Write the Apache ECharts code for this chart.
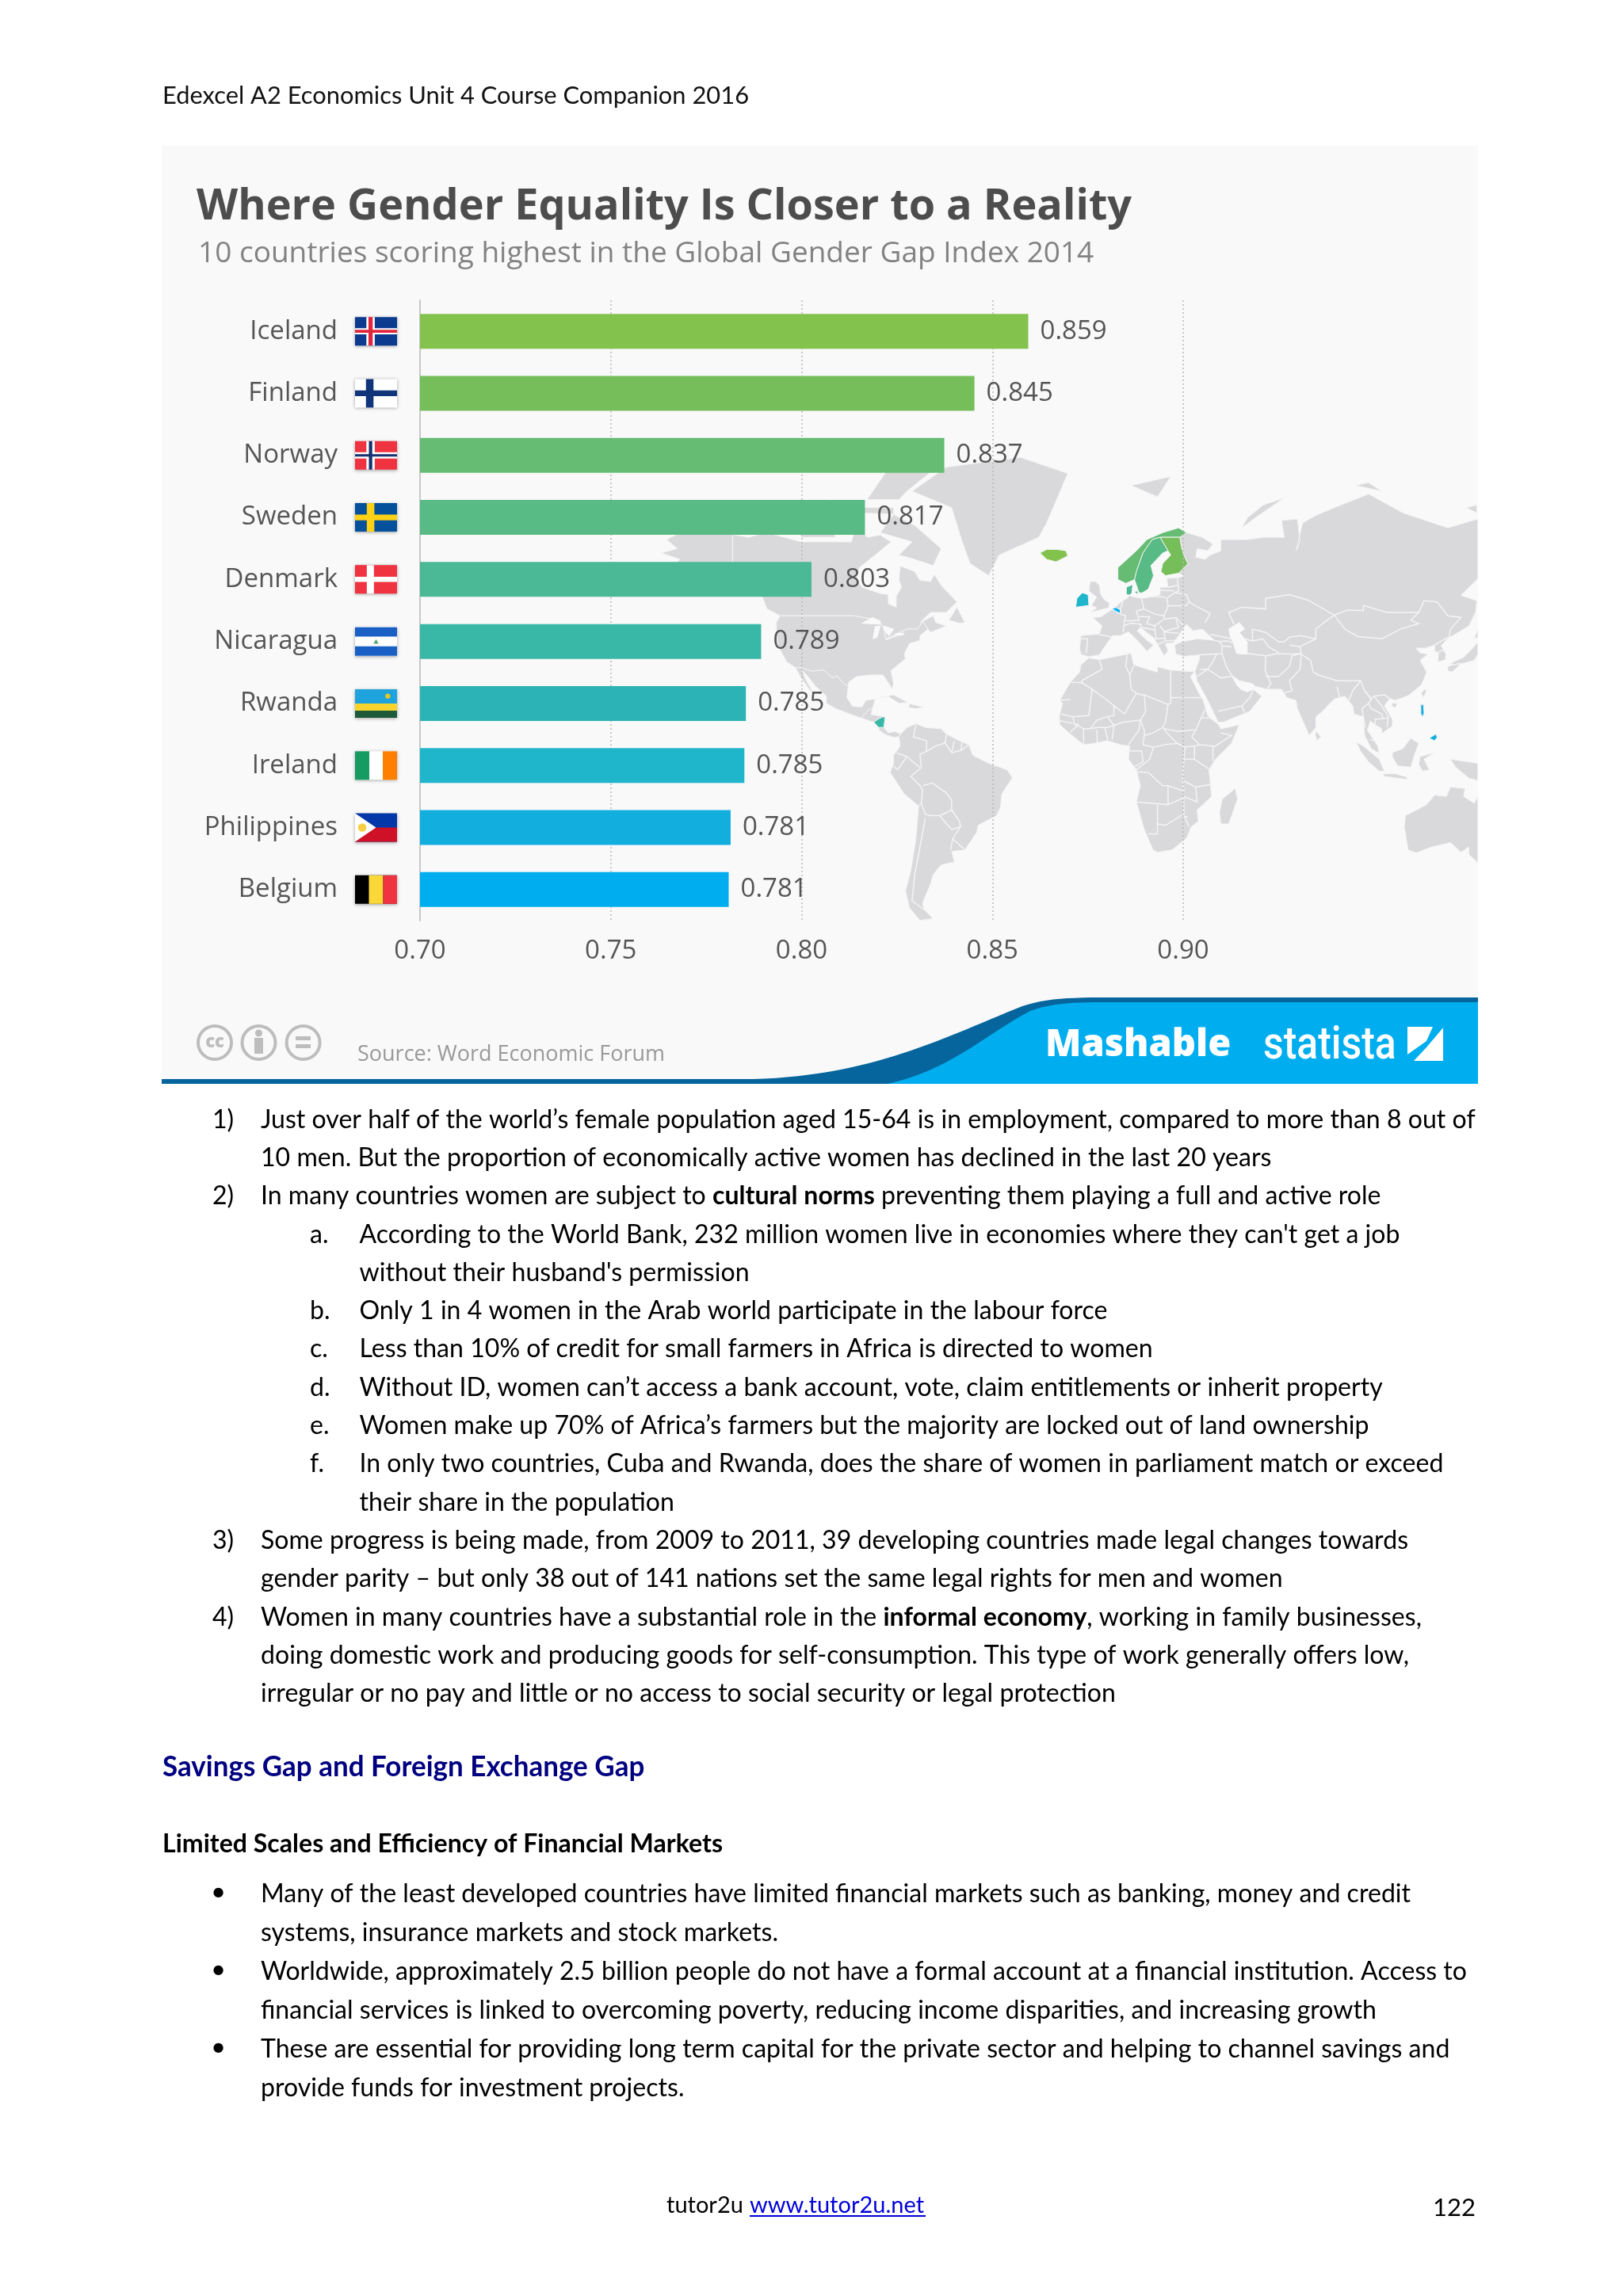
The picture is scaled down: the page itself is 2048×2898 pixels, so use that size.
<!DOCTYPE html>
<html><head><meta charset="utf-8">
<style>html,body{margin:0;padding:0;background:#fff}#c{width:2048px;height:2898px}</style>
<script src="https://cdn.jsdelivr.net/npm/echarts@6/dist/echarts.min.js"></script>
</head><body><div id="c"></div>
<script>
// ---------- chart data ----------
const categories = ['Iceland','Finland','Norway','Sweden','Denmark','Nicaragua','Rwanda','Ireland','Philippines','Belgium'];
const scores = [0.8594,0.8453,0.8374,0.8166,0.8026,0.7894,0.7854,0.7850,0.7814,0.7809];
const barColors = ['#84c24e','#76be5a','#65bc72','#58ba85','#4bb995','#3ab8a7','#2cb3b6','#1fb5cb','#12aede','#00aeef'];
const axisMin = 0.70, axisMax = 0.90, axisStep = 0.05;
const titleText = 'Where Gender Equality Is Closer to a Reality';
const subtitleText = '10 countries scoring highest in the Global Gender Gap Index 2014';
const sourceText = 'Source: Word Economic Forum';

// ---------- flag designs (fractions of the flag) ----------
const flagDesigns = {
  Iceland:{bg:'#0b3a8f',r:[[.27,0,.2,1,'#fff'],[0,.39,1,.22,'#fff'],[.32,0,.1,1,'#e0253c'],[0,.45,1,.1,'#e0253c']]},
  Finland:{bg:'#ffffff',r:[[.26,0,.18,1,'#10357a'],[0,.4,1,.2,'#10357a']]},
  Norway:{bg:'#ef3340',r:[[.27,0,.2,1,'#fff'],[0,.39,1,.22,'#fff'],[.33,0,.08,1,'#14306e'],[0,.46,1,.08,'#14306e']]},
  Sweden:{bg:'#04509a',r:[[.28,0,.18,1,'#fcd116'],[0,.4,1,.2,'#fcd116']]},
  Denmark:{bg:'#ef3340',r:[[.28,0,.17,1,'#fff'],[0,.41,1,.18,'#fff']]},
  Nicaragua:{bg:'#ffffff',r:[[0,0,1,.33,'#1a60c4'],[0,.67,1,.33,'#1a60c4']],p:[[[.44,.58],[.56,.58],[.5,.42],'#5aa36a']]},
  Rwanda:{bg:'#1fa3dd',r:[[0,.5,1,.25,'#f6d32d'],[0,.75,1,.25,'#1e5a3a']],c:[.78,.24,.06,'#e8c824']},
  Ireland:{bg:'#ffffff',r:[[0,0,.34,1,'#169b62'],[.66,0,.34,1,'#ff7f00']]},
  Philippines:{bg:'#0438a8',r:[[0,.5,1,.5,'#ce1126']],p:[[[0,0],[.5,.5],[0,1],'#ffffff']],c:[.17,.5,.1,'#f5cf3f']},
  Belgium:{bg:'#000000',r:[[.33,0,.34,1,'#fbd838'],[.67,0,.33,1,'#ef3340']]}
};

// ---------- world map, longitude/latitude rings ----------
const landRings = {
  Alaska:[[[-141,69.6],[-156,71.3],[-166,68.5],[-162,66.5],[-168,65.5],[-161,64],[-165,61],[-158,58.5],[-164,54.8],[-153,58],[-148,60.5],[-141,60],[-135,58],[-130,55],[-133,58.5],[-137,60],[-141,60.3]]],
  Canada:[[[-141,69.6],[-135,69],[-128,70],[-115,68],[-108,68],[-96,68],[-94,72],[-90,69],[-85,69.5],[-81,68],[-87,65],[-93,62],[-94,59],[-92,57],[-85,55.3],[-82,55],[-82,52.5],[-79,51.5],[-79,54.5],[-77,57],[-78,59],[-77.5,62.4],[-72,61],[-70,58.8],[-66,58.5],[-64.5,60.3],[-62,57.5],[-56,53],[-60,50],[-66,50],[-70,47],[-65,49],[-64,47],[-60,46],[-66,44],[-67,45],[-69,47.3],[-71,45],[-75,45],[-79,43.5],[-83,42],[-84,46],[-88,48],[-95,49],[-123,49],[-128,51],[-130,55],[-135,58],[-141,60]],
    [[-80,73.7],[-72,71.5],[-62,66.5],[-65,62.5],[-72,64],[-78,65],[-73,68],[-85,70]],[[-117,73],[-105,73],[-102,69],[-115,69]],[[-90,76.5],[-80,83],[-62,82.5],[-75,78],[-78,76.5]],[[-125,72],[-118,74.5],[-116,73],[-120,71.5]],[[-96,75],[-80,75],[-80,73.8],[-95,74]],[[-59,47.7],[-56,51.5],[-53,47],[-55,46.8]],[[-120,76],[-105,76.5],[-100,75.5],[-112,74.5]]],
  USA:[[[-123,49],[-95,49],[-88,48],[-84,46],[-83,42],[-79,43.5],[-75,45],[-71,45],[-69,47.3],[-67,45],[-70,43],[-70,41.5],[-74,40.5],[-76,37],[-75.5,35.5],[-81,31.5],[-80,27],[-80.5,25],[-82.5,28],[-84,30],[-89,30],[-94,29.5],[-97,27.5],[-97.2,26],[-99.5,27.5],[-101.5,29.8],[-103,29],[-106.5,31.7],[-111,31.3],[-115,32.5],[-117.2,32.5],[-120.5,34.5],[-124,40],[-124.5,47]]],
  Mexico:[[[-117.2,32.5],[-115,32.5],[-111,31.3],[-106.5,31.7],[-103,29],[-101.5,29.8],[-99.5,27.5],[-97.2,26],[-97.7,22],[-95.5,18.8],[-92,18.6],[-90.5,21],[-87,21.5],[-88,18],[-89,17.8],[-91,16],[-92.2,14.5],[-96,15.8],[-102,18],[-105.5,20],[-105.5,22.5],[-109.5,26],[-112.5,29.5],[-114.7,31.5],[-113,28],[-110,23],[-112,25],[-115,29]]],
  CentralNorth:[[[-92.2,14.5],[-91,16],[-89,17.8],[-88,18],[-88.5,15.8],[-83.2,15],[-84.5,14.7],[-86,14],[-87.3,13],[-89,13.4]]],
  CentralSouth:[[[-85.7,11],[-83.7,11],[-82,9],[-79.5,9.5],[-77.3,8.5],[-78,7.5],[-80,7.3],[-83,8.2],[-85.5,10]]],
  Nicaragua:[[[-87.5,13],[-86,14],[-84.5,14.8],[-83.2,15],[-83.7,11],[-85.7,11]]],
  Greenland:[[[-73,78],[-60,82],[-32,83.5],[-14,81],[-22,72],[-25,69],[-40,65],[-44,60],[-51,63],[-54,68],[-58,75]]],
  Caribbean:[[[-85,22],[-80,23],[-74.5,20.2],[-78,20],[-82,22.3]],[[-74,19.8],[-68.5,18.5],[-71.5,18],[-74.3,18.4]]],
  SouthAmerica:[[[-77.3,8.5],[-75,11],[-71.5,12.4],[-68,11],[-62,10.5],[-60,8.5],[-55,6],[-51.5,4.5],[-50,0.5],[-44,-2.5],[-37,-5],[-35,-8],[-39,-14],[-39.5,-19],[-41,-22],[-48,-25.5],[-48.5,-28],[-53,-34],[-58,-34.5],[-57,-38],[-62,-39],[-65,-42],[-66,-45],[-69,-50.5],[-68.5,-52.5],[-65,-55],[-70,-55.5],[-74,-52],[-75.5,-47],[-73.5,-41],[-71.5,-30],[-70.5,-18.5],[-76,-14],[-81.3,-6],[-80,-2.5],[-80,0.5],[-77.5,4],[-78,7.5]]],
  Africa:[[[-6,35.8],[-2,35.2],[10,37.3],[11,33.5],[15,32.3],[20,31],[20,32.8],[25,31.7],[32,31.2],[34.2,31.3],[32.5,29.5],[35.5,24],[37.3,21],[39,15.5],[43.2,12],[44,10.5],[51,12],[48,5],[42,-1],[39.5,-5],[40.5,-15],[35,-20],[35.5,-24],[32.8,-26],[31,-30],[25.5,-34],[20,-34.8],[18.3,-34],[15,-27],[12,-17],[13.5,-11],[12,-5],[9,-1],[9.5,4],[6,4.5],[1,6],[-4,5],[-8,4.5],[-13,8.5],[-17,12],[-17.2,15],[-16,20],[-17,21],[-13,27.5],[-9.5,31],[-9,33.5]]],
  Madagascar:[[[49.5,-12],[50.3,-16],[47,-25],[44,-25],[43.5,-21],[44.5,-16]]],
  Eurasia:[[[-9,37],[-9.5,38.8],[-9,43],[-2,43.5],[-1,46],[-4.5,48.5],[-1.5,48.7],[1.5,50.2],[4,51.5],[7,53.5],[8.5,54],[9.5,54.9],[10,54.5],[14,54],[19,54.5],[21,55],[21,57],[24,57],[23.5,59.3],[28,59.5],[30,60],[28,60.6],[31.5,62.9],[30,65],[29,67],[28.5,69],[31,70],[37,69],[41,67.5],[39,66],[35,66.5],[34.5,64.5],[38,64],[40,65],[44,66],[44,68.5],[54,68.5],[60,69],[68,69],[67,72.5],[73,72.8],[74,68],[72.5,66],[75,72],[80,73.5],[87,75],[100,77.5],[113,74],[130,71],[141.4,72.8],[141.4,59.2],[135,54.8],[141,53.3],[140.5,50],[138,46],[132,43],[130.5,42.5],[127.5,39.8],[129.3,37],[129,35.2],[126.3,34.5],[126.5,37.5],[125,38],[125,40],[121.5,39],[118,39],[119.5,37.5],[122.5,37],[119.5,35],[122,31],[120,26.5],[115,22.7],[110,21],[108,21.7],[106,19],[109,14],[109,11.5],[105,8.7],[105,10.5],[102.5,12],[100.7,13.5],[99.5,10],[103.5,4],[104,1.3],[101,3],[98.5,8],[98,15],[94.5,16],[94,19],[91,22.5],[87,21.5],[82,16.5],[80,15],[80,11],[77.5,8],[73,18],[72.5,21],[69,22],[67,25],[61.5,25],[57,26],[56,27],[51,28],[48,30],[50,26.5],[51.5,25],[54,24],[56.3,25],[59.5,22.5],[55,17],[45,13],[43,13],[39,21],[35,28],[34.2,31.3],[35.8,35],[36,36.8],[30,36.3],[27,37],[26.5,40],[29,41],[35,42],[41.5,41.5],[37,45],[33.5,44.5],[31,46.5],[28,43],[26,40.8],[23,40.5],[24,38],[22.5,36.5],[19.5,41],[19,42],[13.5,45.5],[12.3,44.5],[16,41.5],[18.5,40],[16,38],[12,41.8],[9,44.2],[6,43],[3,43],[0,39.5],[-2,36.8],[-6,36.2]]],
  Islands:[[[-5.5,50],[1.5,51.3],[1.7,52.8],[0,53.5],[-1.5,55],[-2,57.5],[-3.5,58.5],[-5.5,58.5],[-6,56],[-3,54.3],[-5,52],[-3,51.3]],[[52,71],[57,73],[68,76.8],[60,75.5],[54,73]],[[10,79],[25,80.5],[20,77]],[[95,79],[105,78],[100,79.5]],[[137,75],[141,74],[141,75.5]],
    [[131,34],[136,36],[140,39.5],[141.4,41],[141.4,37],[140,35],[136,34],[132.5,33.5]],[[130,33],[132,33.5],[134.5,34],[134,33],[131.5,31],[130,31.5]],[[140,42],[141.4,45],[141.4,42.5]],[[80,9.7],[82,7.5],[80.5,6],[79.8,8]],[[121,25],[122,24.5],[120.8,22],[120,23.5]],[[109,20],[111,19.8],[110,18.3],[108.7,19]],
    [[109,1.5],[113,3],[116,7],[119,5],[117.5,1],[116,-4],[111,-3.5],[109,0]],[[95.3,5.5],[98,4],[104,-1],[106,-5.5],[104,-5.5],[100,-2],[97,2]],[[105.5,-6.5],[110,-6.5],[114.5,-7.7],[114.5,-8.6],[106,-7.5]],[[119.5,0],[125,1.5],[121,-1],[123,-5],[120.5,-5.5],[119,-3]],[[131,-1],[138,-2],[141.4,-2.6],[141.4,-9],[138,-8.2],[133,-4]]],
  Australia:[[[114,-22],[113.5,-26],[115,-34],[118,-35],[124,-33],[131,-31.5],[135,-34.8],[138,-33],[138,-35.5],[141.4,-38.3],[141.4,-15],[140,-17.5],[136,-15],[136.5,-12],[131,-11.5],[129.5,-15],[125,-14.5],[122,-18],[117,-20.5]]],
  Iceland:[[[-24.5,65.5],[-22,64],[-18.5,63.4],[-14,64.8],[-14.7,66],[-18,66.3],[-22,66.3]]],
  Ireland:[[[-11,51.5],[-6,52],[-6.3,55],[-8.5,55.5],[-10.5,54]]],
  Norway:[[[5,59],[5,62],[12,66],[16,68.5],[22,70],[28,71],[31,70],[28.5,69],[25.5,69],[21,69],[18,68.5],[14.5,65.5],[12,61],[11.3,59],[8,58]]],
  Sweden:[[[11.3,59],[12,61],[14.5,65.5],[18,68.5],[21,69],[24,66],[22,65.5],[17.5,62.5],[18.5,60],[16.5,56.5],[14.3,55.5],[13,55.5]]],
  Finland:[[[21,69],[25.5,69],[28.5,69],[29,67],[30,65],[31.5,62.9],[28,60.6],[23,60],[21.3,61],[22,63],[25,65],[24,66]]],
  Denmark:[[[8.2,55],[8.2,57],[10.6,57.7],[10.3,55.5],[9.5,54.9]],[[11.2,55.8],[12.5,56],[12.5,55]]],
  Belgium:[[[2.6,51],[4.3,51.4],[6,50.7],[5.8,49.6],[4,50]]],
  Philippines:[[[119.8,19.5],[120.8,19.5],[121,16.5],[120.6,15],[119.8,16]],[[123,7],[125.5,8.5],[126,7.3],[125,6],[124,6.5]]],
  Lakes:[[[-92,46.8],[-88,48.5],[-85,47.5],[-85,46.5]],[[-87.8,42],[-87,45.8],[-85,46],[-86.3,42.5]],[[-84,46],[-80,45],[-81.7,43],[-83,44]],[[-83,41.7],[-79,42.8],[-79.5,43.6],[-76,43.8],[-76.5,43.2],[-79,43]],[[47,45],[51,47],[53,45],[51,44],[54,41],[54,37],[50,37.3],[49,40],[47.5,43]]]
};
const highlightedLand = {Iceland:'#84c24e',Finland:'#76be5a',Norway:'#65bc72',Sweden:'#58ba85',Denmark:'#4bb995',Nicaragua:'#3ab8a7',Ireland:'#1fb5cb',Philippines:'#12aede',Belgium:'#00aeef',Lakes:'#f9f9fa'};
const borderLines = [
 // South America
 [[-71.5,12],[-72.5,7.5],[-67.5,6],[-67.5,2],[-70,0.8],[-69.5,-4.2]],[[-60,8.5],[-60.5,5.2],[-64,4],[-67.5,2]],[[-57,6],[-58,1.5]],[[-54,5.8],[-54.5,2.3]],[[-51.5,4.5],[-54.5,2.3],[-58,1.5],[-60.5,5.2]],[[-78.8,1.4],[-75,0],[-70,-4.2]],[[-80.3,-3.4],[-78.5,-5],[-75,0]],[[-69.5,-4.2],[-73.5,-7.5],[-70,-11],[-69,-12.5]],[[-69,-12.5],[-69.5,-17.5],[-70.3,-18.3]],[[-69,-11],[-65.3,-10],[-60,-13.7],[-58,-16.3],[-58,-20]],[[-69.5,-17.5],[-68,-21.5],[-66,-22],[-62.5,-22],[-58,-20]],[[-68,-23],[-70,-33],[-72,-42],[-73,-50],[-68.5,-52.5]],[[-62.5,-22],[-58,-27],[-54.7,-26],[-55,-24],[-58,-20]],[[-57.6,-30.2],[-53.3,-33.7]],[[-57.6,-30.2],[-54.7,-26]],[[-57.6,-30.2],[-58.4,-34]],
 // Africa
 [[-2,35],[-1,32],[-8.7,28],[-8.7,27.3]],[[-8.7,27.3],[-13,27.5]],[[-8.7,27.3],[-4.8,25],[-6,15.5],[-12,15],[-16.5,16]],[[-13,21.3],[-17,21]],[[8.5,37],[8,33],[9.5,30],[10,25]],[[-4.8,25],[1,21],[3.5,19],[7.5,16],[12,23.5],[10,25]],[[12,23.5],[14,23],[15,23],[24,19.5],[25,20],[25,31.7]],[[11,33.2],[9.5,30]],[[25,22],[36.9,22]],[[24,19.5],[23,13],[22,11],[23.5,9]],[[15,23],[15.5,17],[13.5,13.7]],[[3.5,19],[3.5,15.5],[1,15],[3.5,11.8]],[[-5.5,10.5],[-3,13.7],[1,15]],[[3.5,11.8],[7,13],[13.5,13.7]],[[13.5,13.7],[13,10],[9,4.5]],[[2.8,6.5],[3.5,11.8]],[[1.2,6.2],[0,11]],[[-2.8,5],[-3,10]],[[-8,4.5],[-8,10.5]],[[-13,9.2],[-10,12],[-11.5,12.3]],[[-12,15],[-11.5,12.3],[-8,10.5],[-5.5,10.5],[-3,11],[1,11],[3.5,11.8]],[[-17,13.5],[-12,12.5]],
 [[22.5,10.5],[28,9.5],[33,10],[34.5,10]],[[36.5,14.5],[34.5,10],[33,7.5],[36,4.5],[41.8,3.9],[48,8],[44,9]],[[36.5,14.5],[38,17.5]],[[36.5,14.5],[40,14.5],[43,12.5]],[[13.5,13.7],[15,10],[15,8],[14.5,4.5],[18.5,3.5],[23,4.6],[27.5,5],[30.5,3.6],[30,-1]],[[15,8],[18.5,9],[22,11]],[[23.5,9],[27.5,5]],[[30.5,3.6],[34,4]],[[34,4],[36,4.5]],[[34,4],[34,-1],[39.5,-4.7]],[[41,-1.7],[41,3.9]],[[30,-1],[34,-1]],[[18.5,3.5],[17,-1],[12,-5]],[[9.5,2.2],[14,2.2],[14.5,-2],[11,-4]],[[12,-5.8],[16.5,-6],[22,-11],[24,-11],[24,-18],[12,-17]],[[30,-1],[29.5,-9],[30,-13],[24,-11]],[[29.5,-9],[34.5,-11.5],[40.5,-10.5]],[[34.5,-11.5],[35,-17],[30,-15],[30,-22],[32,-26]],[[24,-18],[30,-15.5]],[[20,-18],[20,-25],[23,-25.5],[29,-22]],[[16.5,-28.5],[20,-28.5],[20,-25]],[[29,-22],[31.5,-22.5]],
 // Europe
 [[27.5,59.4],[27.8,57.4],[28,56],[26.5,55.5]],[[21,56.2],[26.5,56]],[[24,57],[27.5,57.5]],[[26.5,55.5],[31,55],[32,53],[31,52],[24,51.8],[23.5,54],[26.5,55.5]],[[14,54],[14.8,51],[19,49.5],[22.5,49],[24,51.8]],[[19,54.5],[23,54.3]],[[22.5,49],[22.5,48],[27,48.5],[30,46]],[[32,53],[34,52],[40,49.7],[38,47]],[[7,53.5],[6,51],[6,49.5],[8,49],[7.5,47.6],[10,47.5],[13,47.7],[12,50.4],[14.8,51]],[[-2,43.3],[3,42.5]],[[-9,42],[-6.5,42],[-7,37.3]],[[7.5,47.6],[7,44]],[[7,46],[10,46.8],[13.7,46.5],[13.7,45.6]],[[13,48.8],[17,48.7],[16.5,47.8]],[[16.5,47.8],[16,46.7],[19,46],[22,47.8]],[[27,48],[28,45.5],[22.5,44.3],[21,46]],[[22.5,44.2],[28,43.7]],[[22.5,44.2],[23,41.3],[26.5,41.5],[28,42]],[[19.5,40],[23,41.3]],[[13.7,45.5],[19,44.8],[19.5,42],[22.5,42.2]],[[19,46],[19,44.8]],[[2.6,51],[5.8,49.6]],
 // Middle East and Asia
 [[36,36.8],[44.5,37.2],[44.5,39.7],[43.5,41.2],[41.5,41.5]],[[40,43.4],[48,42]],[[43.5,41.2],[46.5,41.3],[49.5,40.5]],[[44.5,39.7],[48,39.5]],[[44.5,37.2],[46,33],[48,30]],[[54,37.3],[61,36.5]],[[61,36.5],[60.8,31.5],[63,27],[61.5,25]],[[42.3,37],[41,34.5],[39,32]],[[36,32],[39,32],[35,29.5]],[[39,32],[44,29],[48,29.5]],[[43,17],[52,19],[55,22],[56.3,25]],[[52,19],[53,16.5]],
 [[52,51.5],[61,51],[61,54],[70,55],[77,53.5],[87,49.2]],[[52,51.5],[47,50],[49,46.5]],[[53,42],[56,41.3],[56,45],[61,44],[66,41],[68,41],[70,42.5],[74,43],[80,42],[80,45],[83,47],[87,49.2]],[[87,49.2],[92,50.7],[98,50.5],[98,52],[107,50],[114,50],[119,50],[116,47.7],[119,46.7],[112,45],[105,42],[96,42.7],[91,45],[87,49.2]],[[119,50],[121,53.3],[126,53],[130,49],[135,48.5],[131,45],[130.5,42.5]],[[125,40],[130,42.5]],[[126.5,37.8],[128.5,38.5]],[[56,41.3],[60,42],[62,39.5],[66,37.5]],[[61,36.5],[66,37.3],[71,37],[74.5,37.3]],[[61,29.5],[66,29.5],[70,33],[71,36.5],[74.5,37.3]],[[70,40],[74,39.5]],[[80,42],[74,39.5],[74.5,37],[78,35],[79,31],[81,30],[88,28],[92,28],[97,28],[98.5,24.5],[101,21.5],[102,22.5],[106,23],[108,21.7]],[[74.5,37],[74,32],[70,28],[71,24.5],[68,23.7]],[[88,26],[89,22]],[[92.5,21],[94,24.5],[97,28]],[[98.5,24.5],[101,21.5],[100,20],[97.5,18],[98.7,11]],[[102,22.5],[105,19],[107.5,15],[107,11]],[[102.5,12],[102.5,14],[105.5,14.3],[107.5,14.5]],[[100,20],[101,18],[105,16],[105.5,14.3]],[[100.5,6.5],[102,6]]
];

// ---------- page text ----------
const headerText = 'Edexcel A2 Economics Unit 4 Course Companion 2016';
const bodyLines = [
 ['1)','{n|Just over half of the world’s female population aged 15-64 is in employment, compared to more than 8 out of}',0],
 ['','{n|10 men. But the proportion of economically active women has declined in the last 20 years}',0],
 ['2)','{n|In many countries women are subject to }{b|cultural norms}{n| preventing them playing a full and active role}',0],
 ['a.','{n|According to the World Bank, 232 million women live in economies where they can\'t get a job}',1],
 ['','{n|without their husband\'s permission}',1],
 ['b.','{n|Only 1 in 4 women in the Arab world participate in the labour force}',1],
 ['c.','{n|Less than 10% of credit for small farmers in Africa is directed to women}',1],
 ['d.','{n|Without ID, women can’t access a bank account, vote, claim entitlements or inherit property}',1],
 ['e.','{n|Women make up 70% of Africa’s farmers but the majority are locked out of land ownership}',1],
 ['f.','{n|In only two countries, Cuba and Rwanda, does the share of women in parliament match or exceed}',1],
 ['','{n|their share in the population}',1],
 ['3)','{n|Some progress is being made, from 2009 to 2011, 39 developing countries made legal changes towards}',0],
 ['','{n|gender parity – but only 38 out of 141 nations set the same legal rights for men and women}',0],
 ['4)','{n|Women in many countries have a substantial role in the }{b|informal economy}{n|, working in family businesses,}',0],
 ['','{n|doing domestic work and producing goods for self-consumption. This type of work generally offers low,}',0],
 ['','{n|irregular or no pay and little or no access to social security or legal protection}',0]
];
const sectionHeading = 'Savings Gap and Foreign Exchange Gap';
const subHeading = 'Limited Scales and Efficiency of Financial Markets';
const bulletLines = [
 ['•','Many of the least developed countries have limited financial markets such as banking, money and credit'],
 ['','systems, insurance markets and stock markets.'],
 ['•','Worldwide, approximately 2.5 billion people do not have a formal account at a financial institution. Access to'],
 ['','financial services is linked to overcoming poverty, reducing income disparities, and increasing growth'],
 ['•','These are essential for providing long term capital for the private sector and helping to channel savings and'],
 ['','provide funds for investment projects.']
];

// ---------- helpers ----------
const miller = lat => 1.25*Math.log(Math.tan(Math.PI/4+0.4*lat*Math.PI/180))*180/Math.PI;
const proj = p => [p[0], miller(p[1])];
const features = Object.keys(landRings).map(name => ({
  type:'Feature', properties:{name},
  geometry:{type:'MultiPolygon', coordinates:landRings[name].map(r => { const q=r.map(proj); q.push(q[0]); return [q]; })}
}));
echarts.registerMap('world',{type:'FeatureCollection',features});

function bez(p0,p1,p2,p3,n){const o=[];for(let i=0;i<=n;i++){const t=i/n,u=1-t;o.push([u*u*u*p0[0]+3*u*u*t*p1[0]+3*u*t*t*p2[0]+t*t*t*p3[0],u*u*u*p0[1]+3*u*u*t*p1[1]+3*u*t*t*p2[1]+t*t*t*p3[1]]);}return o;}

const BF='Lato', HF='Open Sans', scaleBody=0.972;
function txt(x,y,text,o={},extra={}){return Object.assign({type:'text',x,y,z:20,silent:true,style:Object.assign({text,fontFamily:BF,fontSize:33,fill:'#000',textVerticalAlign:'middle',textAlign:'left'},o)},extra);}
const els=[];
// panel
els.push({type:'rect',z:-5,silent:true,shape:{x:204,y:184,width:1661,height:1184},style:{fill:'#f9f9fa'}});
// banner
const darkPts=[[204,1362],[950,1362]].concat(bez([950,1362],[1100,1358],[1190,1310],[1290,1270],30),bez([1290,1270],[1320,1260],[1350,1259],[1400,1259],12),[[1865,1259],[1865,1368],[204,1368]]);
els.push({type:'polygon',z:15,silent:true,shape:{points:darkPts},style:{fill:'#05659c'}});
const lightPts=bez([1120,1368],[1200,1350],[1240,1308],[1300,1276],30).concat(bez([1300,1276],[1330,1265],[1360,1265],[1400,1265],12),[[1865,1265],[1865,1368]]);
els.push({type:'polygon',z:16,silent:true,shape:{points:lightPts},style:{fill:'#00aeef'}});
els.push(txt(1319,1320,'Mashable',{fontFamily:HF,fontWeight:800,fontSize:47,fill:'#fff'}));
els.push(txt(1594,1321,'statista',{fontFamily:'Roboto',fontWeight:500,fontSize:58,fill:'#fff'},{scaleX:0.86}));
els.push({type:'rect',z:20,silent:true,shape:{x:1776,y:1296,width:45,height:43},style:{fill:'#fff'}});
els.push({type:'polygon',z:21,silent:true,shape:{points:[[1776,1331],[1800,1314],[1808,1296],[1822,1296],[1800,1322],[1784,1339],[1776,1339]]},style:{fill:'#00aeef'}});
// cc icons
[[271,1316],[326.5,1316],[382.6,1316]].forEach(c=>els.push({type:'circle',z:20,silent:true,shape:{cx:c[0],cy:c[1],r:21},style:{fill:'none',stroke:'#bdbdbd',lineWidth:4}}));
els.push(txt(271,1316,'cc',{fontFamily:HF,fontWeight:800,fontSize:22,fill:'#bdbdbd',textAlign:'center'}));
els.push({type:'circle',z:20,silent:true,shape:{cx:326.5,cy:1304,r:4.5},style:{fill:'#bdbdbd'}});
els.push({type:'rect',z:20,silent:true,shape:{x:321,y:1310,width:11,height:20},style:{fill:'#bdbdbd'}});
els.push({type:'rect',z:20,silent:true,shape:{x:373,y:1308,width:19,height:5},style:{fill:'#bdbdbd'}});
els.push({type:'rect',z:20,silent:true,shape:{x:373,y:1318,width:19,height:5},style:{fill:'#bdbdbd'}});
els.push(txt(451,1331,sourceText,{fontFamily:HF,fontSize:27,fill:'#999'}));
// page header/footer
els.push(txt(205,121,headerText,{fontFamily:'Lato',fontSize:31,fill:'#111'},{scaleX:0.995}));
els.push(txt(841,2784,'tutor2u',{fontFamily:'Lato',fontSize:29,fill:'#000'}));
els.push(txt(946,2784,'www.tutor2u.net',{fontFamily:'Lato',fontSize:29,fill:'#0000d8'}));
els.push({type:'rect',z:20,silent:true,shape:{x:946,y:2796,width:222,height:2},style:{fill:'#0000d8'}});
els.push(txt(1862,2787,'122',{fontSize:31,textAlign:'right'}));
// body
bodyLines.forEach((l,i)=>{
  const y=1413+48.3*i, lvl=l[2];
  if(l[0]) els.push(txt(lvl?391:268,y,l[0],{},{scaleX:scaleBody}));
  els.push(txt(lvl?453.5:329,y,l[1],{rich:{n:{fontFamily:BF,fontSize:33,fill:'#000'},b:{fontFamily:BF,fontSize:33,fontWeight:700,fill:'#000'}}},{scaleX:scaleBody}));
});
els.push(txt(205,2230,sectionHeading,{fontWeight:700,fontSize:36,fill:'#000080'},{scaleX:scaleBody}));
els.push(txt(205,2327,subHeading,{fontWeight:700,fontSize:33},{scaleX:scaleBody}));
bulletLines.forEach((l,i)=>{
  const y=2390+49*i;
  if(l[0]) els.push(txt(266,y-2,l[0],{fontSize:33}));
  els.push(txt(329,y,l[1],{},{scaleX:scaleBody}));
});

function renderFlag(params,api){
  const c=api.coord([api.value(0),api.value(1)]);
  const name=categories[params.dataIndex], d=flagDesigns[name];
  const w=53,h=36,x0=c[0]-82,y0=c[1]-h/2;
  const kids=[{type:'rect',shape:{x:x0,y:y0,width:w,height:h},style:{fill:d.bg,shadowBlur:4,shadowColor:'rgba(0,0,0,0.35)',shadowOffsetY:1}}];
  (d.r||[]).forEach(r=>kids.push({type:'rect',shape:{x:x0+r[0]*w,y:y0+r[1]*h,width:r[2]*w,height:r[3]*h},style:{fill:r[4]}}));
  (d.p||[]).forEach(p=>kids.push({type:'polygon',shape:{points:p.slice(0,3).map(q=>[x0+q[0]*w,y0+q[1]*h])},style:{fill:p[3]}}));
  if(d.c) kids.push({type:'circle',shape:{cx:x0+d.c[0]*w,cy:y0+d.c[1]*h,r:d.c[2]*w},style:{fill:d.c[3]}});
  return {type:'group',children:kids};
}

const chart=echarts.init(document.getElementById('c'),null,{renderer:'canvas',width:2048,height:2898});
chart.setOption({
  animation:false,
  backgroundColor:'#ffffff',
  title:[
    {text:titleText,left:243,top:230,textStyle:{fontFamily:HF,fontWeight:700,fontSize:54,color:'#4d4d4d'}},
    {text:subtitleText,left:245,top:297,textStyle:{fontFamily:HF,fontWeight:400,fontSize:37,color:'#828282'}}
  ],
  graphic:{elements:els},
  geo:{map:'world',silent:true,roam:false,z:1,left:794.6,top:564.2,width:1198.8,height:619.2,aspectScale:1,
    boundingCoords:[[-180,miller(85)],[180,miller(-60)]],
    itemStyle:{areaColor:'#d9d9db',borderColor:'#f4f4f5',borderWidth:1},
    emphasis:{disabled:true},label:{show:false},
    regions:Object.keys(highlightedLand).map(n=>({name:n,itemStyle:{areaColor:highlightedLand[n],borderColor:n==='Lakes'?'#f9f9fa':'#f4f4f5'}}))
  },
  grid:{left:530,top:379,width:963,height:783,containLabel:false},
  xAxis:{type:'value',min:axisMin,max:axisMax,interval:axisStep,z:3,
    axisLine:{show:false},axisTick:{show:false},
    axisLabel:{margin:22,color:'#555',fontFamily:HF,fontSize:33,formatter:v=>v.toFixed(2)},
    splitLine:{show:true,lineStyle:{color:'#b9b9b9',width:1.5,type:[2,3]}}},
  yAxis:{type:'category',data:categories,inverse:true,z:3,
    axisLine:{show:true,lineStyle:{color:'#c8c8c8',width:2}},axisTick:{show:false},
    axisLabel:{margin:104,color:'#555',fontFamily:HF,fontSize:33},splitLine:{show:false}},
  series:[
    {type:'lines',coordinateSystem:'geo',polyline:true,silent:true,z:2,effect:{show:false},
     lineStyle:{color:'#f4f4f5',width:1.5,opacity:1},data:borderLines.map(l=>({coords:l.map(proj)}))},
    {type:'bar',z:5,barWidth:44,data:scores.map((v,i)=>({value:v,itemStyle:{color:barColors[i]}})),silent:true,
     label:{show:true,position:'right',distance:15,fontFamily:HF,fontSize:33,color:'#555',formatter:p=>p.value.toFixed(3)}},
    {type:'custom',z:6,silent:true,clip:false,renderItem:renderFlag,encode:{x:0,y:1},data:categories.map((c,i)=>[axisMin,i])}
  ]
});
</script></body></html>
